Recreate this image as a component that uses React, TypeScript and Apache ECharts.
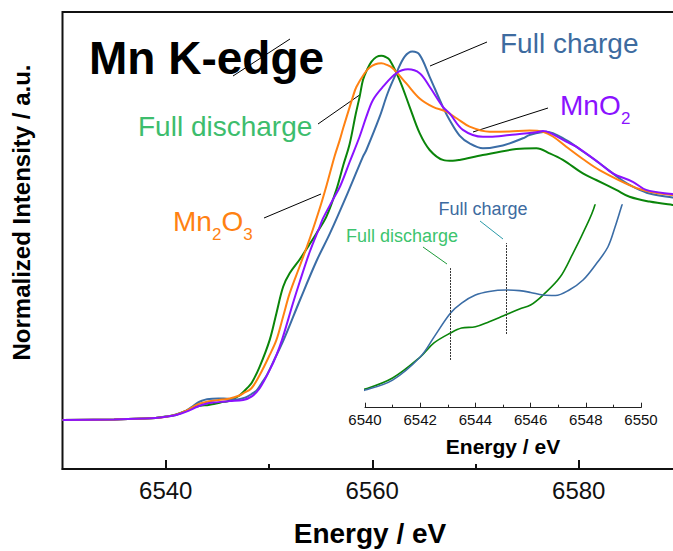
import { useEffect, useRef } from "react";
import * as echarts from "echarts";

type Pt = [number, number];

// Normalized Mn K-edge XANES spectra: [energy (eV), normalized intensity]
const fullDischarge: Pt[] = [
  [6530, 0], [6535, 0.002], [6538, 0.005], [6539, 0.007], [6540, 0.0114], [6541, 0.0182],
  [6542, 0.031], [6542.5, 0.0396], [6543.1, 0.0457], [6543.5, 0.0487], [6544, 0.0495],
  [6544.5, 0.0526], [6545, 0.0561], [6545.6, 0.0604], [6546, 0.0628], [6546.45, 0.0689],
  [6547.07, 0.0799], [6547.54, 0.0946], [6547.9, 0.1069], [6548.33, 0.124], [6549.1, 0.178],
  [6550.07, 0.267], [6550.72, 0.356], [6551.37, 0.444], [6552.0, 0.489], [6552.97, 0.535],
  [6553.78, 0.578], [6554.59, 0.622], [6555.56, 0.678], [6556.52, 0.767], [6557.2, 0.85],
  [6557.81, 0.92], [6558.4, 1.02], [6558.78, 1.078], [6559.1, 1.133], [6559.49, 1.167],
  [6559.91, 1.194], [6560.4, 1.21], [6560.88, 1.214], [6561.3, 1.21], [6561.69, 1.2],
  [6562.65, 1.133], [6563.62, 1.044], [6564.59, 0.956], [6565.56, 0.9], [6566.84, 0.867],
  [6567.8, 0.864], [6568.46, 0.867], [6570.7, 0.883], [6573.95, 0.903], [6575.9, 0.906],
  [6577.17, 0.889], [6578.46, 0.867], [6580.4, 0.822], [6581.69, 0.8], [6583.63, 0.767],
  [6584.92, 0.744], [6586.85, 0.728], [6589.08, 0.717], [6590, 0.714],
];

const fullCharge: Pt[] = [
  [6530, 0], [6535, 0.002], [6538, 0.005], [6539, 0.007], [6540, 0.0108], [6541, 0.0169],
  [6542, 0.031], [6542.5, 0.0432], [6543.1, 0.0579], [6543.5, 0.064], [6544, 0.0689],
  [6544.5, 0.0711], [6545.1, 0.072], [6545.6, 0.0716], [6546, 0.0705], [6546.45, 0.0689],
  [6546.9, 0.0686], [6547.4, 0.072], [6547.9, 0.0781], [6548.4, 0.0885], [6548.8, 0.0983],
  [6549.06, 0.1105], [6549.31, 0.124], [6549.8, 0.15], [6550.5, 0.2], [6551.42, 0.267],
  [6553, 0.4], [6554.6, 0.53], [6555.9, 0.622], [6557.81, 0.772], [6559.1, 0.878],
  [6559.43, 0.9], [6560.72, 1.011], [6561.5, 1.09], [6562.33, 1.156], [6563.14, 1.211],
  [6563.88, 1.228], [6564.59, 1.217], [6565.56, 1.144], [6566.84, 1.044], [6567.49, 1.0],
  [6568.46, 0.948], [6569.43, 0.922], [6570.72, 0.906], [6572.65, 0.915], [6574.59, 0.939],
  [6575.24, 0.95], [6576.85, 0.961], [6578.79, 0.933], [6580.4, 0.895], [6582.01, 0.856],
  [6584.27, 0.797], [6585.24, 0.778], [6586.85, 0.755], [6589.08, 0.742], [6590, 0.738],
];

const mn2o3: Pt[] = [
  [6530, 0], [6535, 0.002], [6538, 0.005], [6539, 0.007], [6540, 0.011], [6541, 0.018],
  [6542, 0.031], [6543.1, 0.052], [6544, 0.061], [6544.6, 0.064], [6545.5, 0.068],
  [6546.2, 0.072], [6547, 0.08], [6547.5, 0.089], [6548.3, 0.106], [6549.1, 0.15],
  [6550.07, 0.217], [6550.72, 0.267], [6551.37, 0.345], [6552, 0.422], [6553, 0.515],
  [6554, 0.61], [6555, 0.715], [6555.6, 0.785], [6556.36, 0.88], [6556.85, 0.933],
  [6557.16, 0.97], [6558.13, 1.078], [6558.46, 1.11], [6559.26, 1.156], [6559.75, 1.175],
  [6560.3, 1.186], [6560.88, 1.189], [6561.4, 1.184], [6562, 1.172], [6563.3, 1.122],
  [6564.59, 1.072], [6565.88, 1.044], [6567.17, 1.028], [6568.2, 1.005], [6569.43, 0.978],
  [6571.37, 0.961], [6573.3, 0.962], [6575.24, 0.965], [6576.53, 0.961], [6577.5, 0.945],
  [6578.79, 0.911], [6580.4, 0.87], [6582.01, 0.833], [6585.24, 0.778], [6587, 0.76],
  [6589.08, 0.75], [6590, 0.747],
];

const mno2: Pt[] = [
  [6530, 0], [6535, 0.002], [6538, 0.005], [6539, 0.007], [6540, 0.011], [6541, 0.017],
  [6542, 0.028], [6543.1, 0.045], [6544, 0.055], [6544.6, 0.058], [6545.5, 0.061],
  [6546.2, 0.063], [6547.5, 0.067], [6548.3, 0.078], [6549.1, 0.106], [6550.07, 0.167],
  [6550.7, 0.215], [6551.26, 0.267], [6552.32, 0.389], [6552.97, 0.46], [6553.94, 0.56],
  [6554.91, 0.644], [6555.23, 0.672], [6556.2, 0.735], [6556.9, 0.78], [6557.81, 0.86],
  [6558.78, 0.945], [6559.43, 1.011], [6560.07, 1.067], [6561.04, 1.111], [6562.33, 1.156],
  [6563.46, 1.169], [6564.59, 1.156], [6565.56, 1.111], [6566.84, 1.044], [6567.49, 1.022],
  [6568.78, 0.967], [6570.72, 0.944], [6571.37, 0.944], [6573.3, 0.95], [6575.89, 0.959],
  [6576.53, 0.963], [6577.17, 0.958], [6578.79, 0.928], [6579.76, 0.911], [6582.01, 0.856],
  [6583.3, 0.822], [6585.24, 0.794], [6586.53, 0.767], [6589.08, 0.753], [6590, 0.75],
];

// Axis ticks
const mainMajorTicks = [6540, 6560, 6580];
const mainMinorTicks = [6550, 6570];

// Pre-edge feature energies marked in the inset, with the vertical extent of each marker
const featureDischarge = { energy: 6543.1, from: 0.0292, to: 0.0854 };
const featureCharge = { energy: 6545.1, from: 0.0451, to: 0.1007 };

const FONT = '"Liberation Sans", Arial, Helvetica, sans-serif';

const GREEN = "#0a850a";
const BLUE = "#3b6da6";
const ORANGE = "#ff8112";
const PURPLE = "#8a12ff";

function label(
  x: number,
  y: number,
  text: string,
  size: number,
  color: string,
  extra: Record<string, unknown> = {}
) {
  return {
    type: "text",
    x,
    y,
    silent: true,
    style: {
      text,
      fontSize: size,
      fontFamily: FONT,
      fill: color,
      textAlign: "left",
      align: "left",
      textVerticalAlign: "middle",
      verticalAlign: "middle",
      ...extra,
    },
  };
}

function leader(x1: number, y1: number, x2: number, y2: number, color = "#000") {
  return {
    type: "line",
    silent: true,
    shape: { x1, y1, x2, y2 },
    style: { stroke: color, lineWidth: 1 },
  };
}

const plainNumber = (v: number) => String(v);

export default function App() {
  const ref = useRef<HTMLDivElement>(null);

  useEffect(() => {
    if (!ref.current) return;
    const chart = echarts.init(ref.current, undefined, { renderer: "svg" });

    const mainLine = (data: Pt[], color: string) => ({
      type: "line",
      xAxisIndex: 0,
      yAxisIndex: 0,
      data,
      showSymbol: false,
      smooth: 0.35,
      lineStyle: { color, width: 2 },
      silent: true,
    });

    const insetLine = (data: Pt[], color: string, markLine?: unknown) => ({
      type: "line",
      xAxisIndex: 2,
      yAxisIndex: 1,
      data,
      showSymbol: false,
      smooth: 0.35,
      lineStyle: { color, width: 1.6 },
      silent: true,
      markLine,
    });

    const markerLine = (f: { energy: number; from: number; to: number }) => [
      { coord: [f.energy, f.from] },
      { coord: [f.energy, f.to] },
    ];

    const yTitle = {
      ...label(21.5, 212.5, "Normalized Intensity / a.u.", 24, "#000", {
        fontWeight: "bold",
        textAlign: "center",
        align: "center",
      }),
      rotation: Math.PI / 2,
    };

    chart.setOption({
      animation: false,
      backgroundColor: "#ffffff",
      grid: [
        {
          left: 62.5,
          top: 12,
          width: 619.5,
          height: 457,
          outerBoundsMode: "none",
          containLabel: false,
          show: true,
          borderColor: "#111",
          borderWidth: 2,
          backgroundColor: "transparent",
        },
        {
          left: 365,
          top: 205,
          width: 276,
          height: 202.7,
          outerBoundsMode: "none",
          containLabel: false,
        },
      ],
      xAxis: [
        {
          gridIndex: 0,
          type: "value",
          min: 6530,
          max: 6590,
          position: "bottom",
          axisLine: { show: true, onZero: false, lineStyle: { color: "#111", width: 2 } },
          axisTick: {
            show: true,
            inside: true,
            length: 9,
            customValues: mainMajorTicks,
            lineStyle: { color: "#111", width: 2 },
          },
          axisLabel: {
            customValues: mainMajorTicks,
            formatter: plainNumber,
            fontSize: 24,
            color: "#111",
            fontFamily: FONT,
            margin: 9,
          },
          splitLine: { show: false },
        },
        {
          gridIndex: 0,
          type: "value",
          min: 6530,
          max: 6590,
          position: "bottom",
          axisLine: { show: false, onZero: false },
          axisTick: {
            show: true,
            inside: true,
            length: 5,
            customValues: mainMinorTicks,
            lineStyle: { color: "#111", width: 2 },
          },
          axisLabel: { show: false },
          splitLine: { show: false },
        },
        {
          gridIndex: 1,
          type: "value",
          min: 6540,
          max: 6550,
          interval: 2,
          position: "bottom",
          axisLine: { onZero: false, lineStyle: { color: "#222", width: 1 } },
          axisTick: { inside: true, length: 5, lineStyle: { color: "#222", width: 1 } },
          minorTick: { show: true, splitNumber: 2, length: 3, lineStyle: { color: "#222", width: 1 } },
          axisLabel: { fontSize: 15, color: "#111", fontFamily: FONT, margin: 4, formatter: plainNumber },
          splitLine: { show: false },
          minorSplitLine: { show: false },
        },
      ],
      yAxis: [
        { gridIndex: 0, type: "value", min: -0.1633, max: 1.36, show: false },
        { gridIndex: 1, type: "value", min: 0, max: 0.124, show: false },
      ],
      series: [
        mainLine(fullDischarge, GREEN),
        mainLine(fullCharge, BLUE),
        mainLine(mn2o3, ORANGE),
        mainLine(mno2, PURPLE),
        insetLine(fullDischarge, GREEN, {
          silent: true,
          symbol: ["none", "none"],
          label: { show: false },
          lineStyle: { color: "#333", type: [2, 1], width: 1 },
          data: [markerLine(featureDischarge), markerLine(featureCharge)],
        }),
        insetLine(fullCharge, BLUE),
      ],
      graphic: [
        // axis titles
        yTitle,
        label(370, 533, "Energy / eV", 28, "#000", {
          fontWeight: "bold",
          textAlign: "center",
          align: "center",
        }),
        label(503, 446, "Energy / eV", 21, "#000", {
          fontWeight: "bold",
          textAlign: "center",
          align: "center",
        }),
        // title
        label(89, 58, "Mn K-edge", 46, "#000", { fontWeight: "bold" }),
        leader(233, 76, 290, 39),
        // main annotations
        label(500, 43.5, "Full charge", 28, "#3d6b9f"),
        leader(430, 66, 487, 42),
        label(560, 105, "MnO", 28, PURPLE),
        label(621, 118, "2", 17, PURPLE),
        leader(473, 132, 548, 108),
        label(138, 126.5, "Full discharge", 28, "#3dbd6d"),
        leader(318, 124, 361, 94),
        label(173, 221, "Mn", 28, ORANGE),
        label(212, 234, "2", 17, ORANGE),
        label(221.5, 221, "O", 28, ORANGE),
        label(243.3, 234, "3", 17, ORANGE),
        leader(264, 218, 321, 194),
        // inset annotations
        label(438.5, 208.5, "Full charge", 18, "#3d6b9f"),
        leader(480, 221, 503, 239, "#2a9aa8"),
        label(346, 235.5, "Full discharge", 18, "#3dc46e"),
        leader(423, 247, 447, 264, "#1f9a3a"),
      ].map((g, i) => ({ ...g, id: "g" + i })),
    });

    return () => chart.dispose();
  }, []);

  return (
    <div
      ref={ref}
      style={{ position: "fixed", left: 0, top: 0, width: 673, height: 551, background: "#fff" }}
    />
  );
}
